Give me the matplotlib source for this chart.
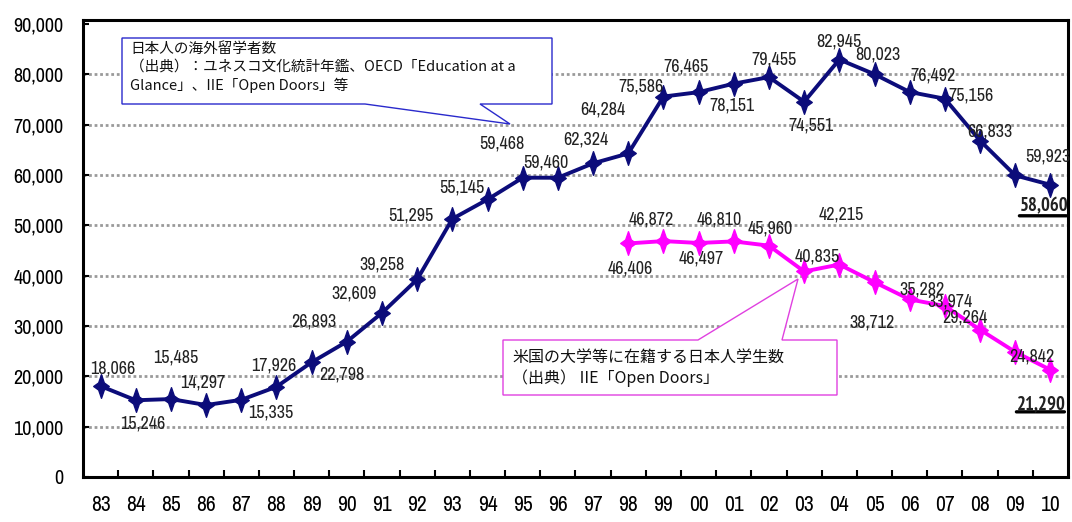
import matplotlib
matplotlib.use("Agg")
import matplotlib.pyplot as plt
from matplotlib import font_manager
from matplotlib.font_manager import FontProperties
from matplotlib.path import Path
from matplotlib.patches import Polygon
from matplotlib.transforms import offset_copy

years = ['83', '84', '85', '86', '87', '88', '89', '90', '91', '92', '93', '94', '95', '96',
         '97', '98', '99', '00', '01', '02', '03', '04', '05', '06', '07', '08', '09', '10']

# Japanese students studying abroad (all countries)
abroad = [18066, 15246, 15485, 14297, 15335, 17926, 22798, 26893, 32609, 39258, 51295, 55145,
          59468, 59460, 62324, 64284, 75586, 76465, 78151, 79455, 74551, 82945, 80023, 76492,
          75156, 66833, 59923, 58060]

# Japanese students enrolled in US universities (from 98)
us_start = years.index('98')
us = [46406, 46872, 46497, 46810, 45960, 40835, 42215, 38712, 35282, 33974, 29264, 24842, 21290]

box1_text = "日本人の海外留学者数\n（出典）：ユネスコ文化統計年鑑、OECD「Education at a\nGlance」、IIE「Open Doors」等"
box2_text = "米国の大学等に在籍する日本人学生数\n（出典） IIE「Open Doors」"

# label offsets in pixels (dx, dy) from each point
abroad_off = [(12, 18), (7, -23), (5, 42), (-3, 23), (29, -13), (-3, 21), (30, -12), (-33, 20),
              (-28, 19), (-35, 15), (-41, 3), (-26, 12), (-21, 34), (-12, 15), (-7, 24), (-25, 44),
              (-22, 10), (-13, 26), (-2, -22), (5, 18), (7, -24), (0, 18), (3, 20), (23, 17),
              (26, 3), (10, 9), (33, 19), (-6, -22)]
us_off = [(2, -25), (-12, 22), (3, -16), (-15, 22), (1, 17), (13, 15), (2, 50), (-3, -40),
          (12, 10), (5, 5), (-15, 12), (17, -5), (-9, -34)]

navy = '#0c0c7a'
pink = '#ff00ff'
cjk = ['Noto Sans CJK JP', 'DejaVu Sans']


# look for a narrow sans font, otherwise use Liberation Sans
def find_narrow(bold=False):
    best = None
    for f in font_manager.fontManager.ttflist:
        fn = f.fname.lower()
        nm = f.name.lower()
        if 'mono' in fn or 'serif' in fn.replace('sans', '') or f.style != 'normal':
            continue
        w = f.weight if isinstance(f.weight, int) else (700 if 'bold' in str(f.weight) else 400)
        if (w >= 600) != bold:
            continue
        if 'narrow' in nm or 'narrow' in fn:
            score = 0
        elif 'condensed' in nm or 'condensed' in fn or str(f.stretch) in ('condensed', 'semi-condensed', 'extra-condensed'):
            score = 1
        else:
            continue
        if best is None or score < best[0]:
            best = (score, f.fname)
    return best[1] if best else None


narrow_path = find_narrow()
narrow_bold_path = find_narrow(bold=True)
if narrow_path:
    num_fp = FontProperties(fname=narrow_path, size=13)
    tick_fp = FontProperties(fname=narrow_path, size=14.5)
    xtick_fp = FontProperties(fname=narrow_path, size=15.5)
else:
    num_fp = FontProperties(family='Liberation Sans', size=10.5)
    tick_fp = FontProperties(family='Liberation Sans', size=12)
    xtick_fp = FontProperties(family='Liberation Sans', size=13)
if narrow_bold_path:
    bold_fp = FontProperties(fname=narrow_bold_path, size=13.5)
else:
    bold_fp = FontProperties(family='Liberation Sans', weight='bold', size=11)

W, H = 1072, 522
fig = plt.figure(figsize=(W / 100, H / 100), dpi=100)
ax = fig.add_axes([83 / W, 45 / H, 985 / W, 457 / H])

# 4-point star marker, taller than wide
verts = [(0, 1), (0.24, 0.3), (0.66, 0), (0.24, -0.3), (0, -1), (-0.24, -0.3),
         (-0.66, 0), (-0.24, 0.3), (0, 1)]
codes = [Path.MOVETO] + [Path.LINETO] * 7 + [Path.CLOSEPOLY]
star = Path(verts, codes)

x_all = list(range(len(years)))
x_us = x_all[us_start:]

ax.plot(x_all, abroad, color=navy, lw=2.8, marker=star, ms=17, mec=navy, mfc=navy, zorder=4)
ax.plot(x_us, us, color=pink, lw=2.8, marker=star, ms=17, mec=pink, mfc=pink, zorder=4)

for i, v in enumerate(abroad):
    dx, dy = abroad_off[i]
    last = i == len(abroad) - 1
    ax.annotate(f"{v:,}", (i, v), xytext=(dx, dy), textcoords='offset pixels',
                ha='center', va='center', fontproperties=bold_fp if last else num_fp,
                color='#222222', zorder=5)

for k, v in enumerate(us):
    i = x_us[k]
    dx, dy = us_off[k]
    last = k == len(us) - 1
    ax.annotate(f"{v:,}", (i, v), xytext=(dx, dy), textcoords='offset pixels',
                ha='center', va='center', fontproperties=bold_fp if last else num_fp,
                color='#222222', zorder=5)


# thick underline below the latest values
def underline(i, v, x0, x1, dy):
    tr = offset_copy(ax.transData, fig=fig, x=x1, y=dy, units='dots')
    ax.annotate('', xy=(i, v), xycoords=tr, xytext=(x0 - x1, 0), textcoords='offset pixels',
                arrowprops=dict(arrowstyle='-', lw=2.4, color='black', shrinkA=0, shrinkB=0),
                annotation_clip=False)


underline(x_all[-1], abroad[-1], -31, 16, -31)
underline(x_us[-1], us[-1], -34, 14, -42)

ax.set_xlim(-0.5, len(years) - 0.5)
ax.set_ylim(0, 90800)
ax.set_yticks(range(0, 90001, 10000))
ax.set_yticklabels([f"{t:,}" for t in range(0, 90001, 10000)])
ax.set_xticks(x_all)
ax.set_xticklabels(years)
for lbl in ax.get_yticklabels():
    lbl.set_fontproperties(tick_fp)
for lbl in ax.get_xticklabels():
    lbl.set_fontproperties(xtick_fp)
ax.set_xticks([i + 0.5 for i in x_all[:-1]], minor=True)
ax.tick_params(axis='x', which='major', length=0, pad=13)
ax.tick_params(axis='x', which='minor', direction='in', length=5, width=1.5)
ax.tick_params(axis='y', which='major', direction='in', length=4, width=1.5, pad=14)

for t in range(10000, 90000, 10000):
    ax.axhline(t, color='#9a9a9a', lw=2, ls=(0, (1, 1)), zorder=1)

for s in ax.spines.values():
    s.set_linewidth(2.2)
    s.set_color('black')


def fpx(x, y):
    return (x / W, 1 - y / H)


# callout for the navy series
callout1 = [fpx(122, 38), fpx(552, 38), fpx(552, 104), fpx(480, 104), fpx(510, 124),
            fpx(365, 104), fpx(122, 104)]
ax.add_patch(Polygon(callout1, closed=True, transform=fig.transFigure, facecolor='white',
                     edgecolor='#2a2acc', lw=1, zorder=3, clip_on=False))
fig.text(130 / W, 1 - 42 / H, box1_text, family=cjk, fontsize=10.5, va='top', ha='left',
         linespacing=1.35, color='#111111')

# callout for the pink series
callout2 = [fpx(503, 340), fpx(698, 340), fpx(798, 279), fpx(782, 340), fpx(837, 340),
            fpx(837, 395), fpx(503, 395)]
ax.add_patch(Polygon(callout2, closed=True, transform=fig.transFigure, facecolor='white',
                     edgecolor='#e040e0', lw=1, zorder=3, clip_on=False))
fig.text(512 / W, 1 - 349 / H, box2_text, family=cjk, fontsize=11.5, va='top', ha='left',
         linespacing=1.25, color='#111111')

fig.savefig('out.png', dpi=100)
